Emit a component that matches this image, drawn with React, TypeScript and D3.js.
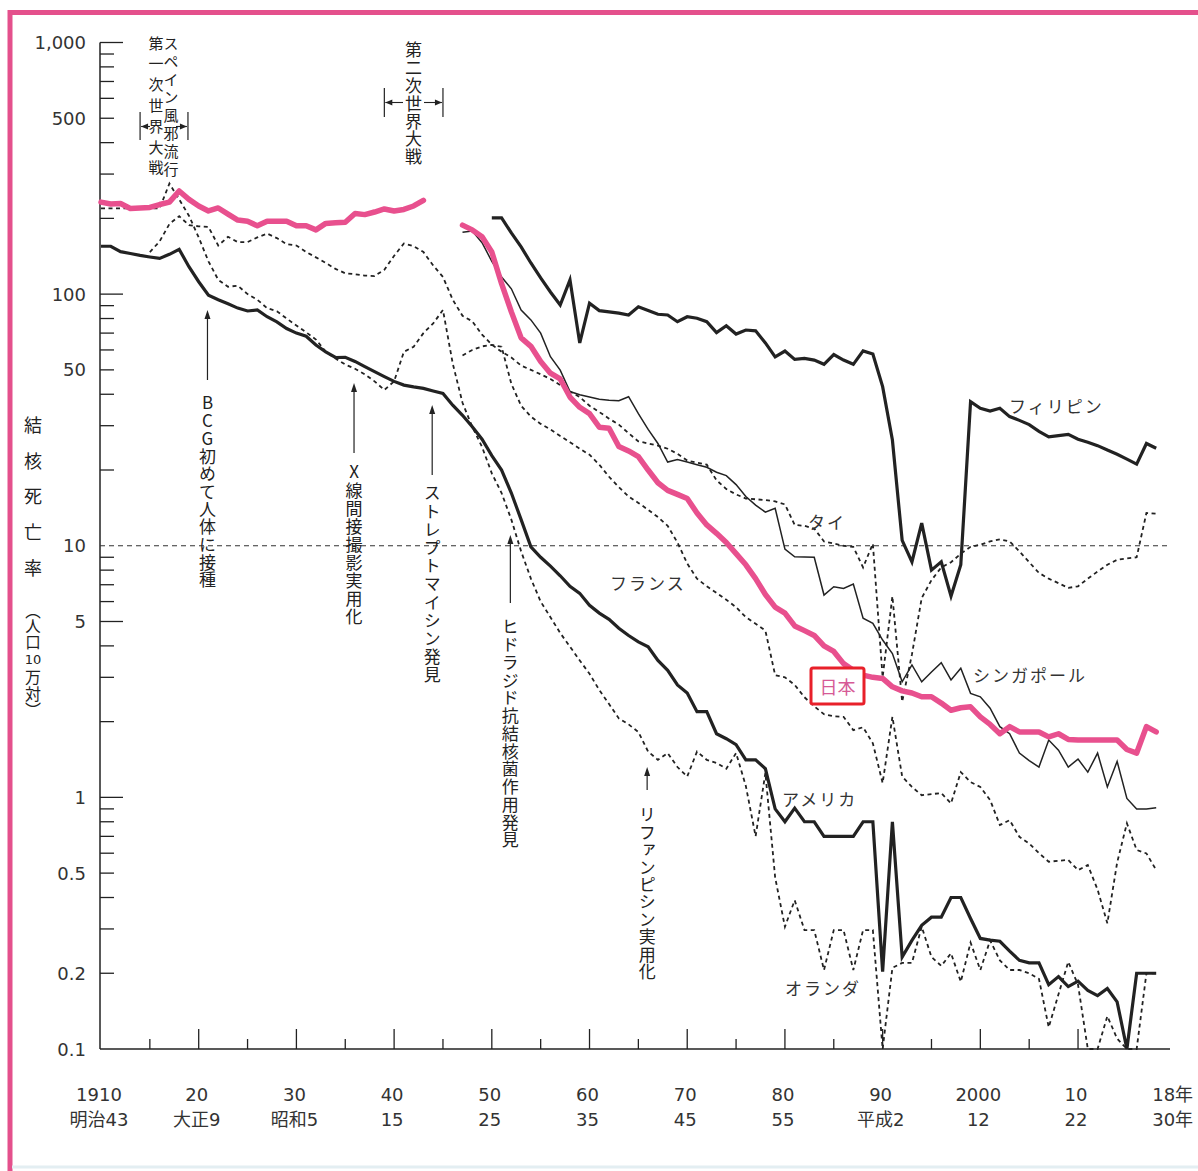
import React, { useEffect, useRef } from "react";
import * as d3 from "d3";

// 結核死亡率（人口10万対）, one value per year from the start year of each series
const japanStart = 1910;
const japanRates: (number | null)[] = [
  232, 228, 229, 219, 220, 221, 227, 232, 257, 238,
  224, 214, 220, 208, 197, 195, 187, 195, 195, 195,
  187, 187, 180, 191, 192, 193, 209, 207, 212, 218,
  214, 217, 224, 236, null, null, null, 188, 180, 169,
  147, 110, 85, 67, 62, 54, 48.5, 46, 39, 35.5,
  33.5, 29.6, 29.3, 24.8, 23.8, 22.6, 20.0, 17.8, 16.6, 16.0,
  15.4, 13.5, 12.1, 11.2, 10.3, 9.3, 8.4, 7.4, 6.4, 5.7,
  5.4, 4.8, 4.6, 4.4, 4.0, 3.8, 3.4, 3.2, 3.06, 3.0,
  2.97, 2.75, 2.65, 2.6, 2.51, 2.51, 2.37, 2.22, 2.27, 2.29,
  2.09, 1.95, 1.79, 1.91, 1.82, 1.82, 1.82, 1.74, 1.79, 1.70,
  1.69, 1.69, 1.69, 1.69, 1.69, 1.55, 1.50, 1.91, 1.82,
];

const philippinesStart = 1950;
const philippinesRates = [
  201, 201, 175, 154, 133, 116, 102, 90.5, 114, 64,
  92, 86, 85, 84, 82.6, 89, 86, 83.2, 82.6, 77.7,
  81.3, 80.2, 77.7, 70.3, 74.9, 69.4, 72, 71.5, 64, 56.3,
  59.4, 55, 55.5, 54.7, 52.6, 57.5, 54.7, 52.6, 59.5, 57.8,
  42.9, 26.3, 10.5, 8.63, 12.3, 8.0, 8.63, 6.3, 8.4, 37.4,
  35.2, 34.3, 35.2, 32.6, 31.5, 30.3, 28.5, 27.1, 27.4, 27.7,
  26.5, 25.8, 25.0, 24.0, 23.1, 22.1, 21.1, 25.5, 24.4,
];

const singaporeStart = 1947;
const singaporeRates = [
  176, 178, 160,
  135, 117, 105, 86.5, 79, 70, 56.4, 49.9, 41, 39.8,
  39, 38.2, 37.9, 37.7, 39.1, 33.5, 29, 25.5, 21.5, 22,
  21.5, 21, 20.5, 19.6, 19.0, 17.5, 15.7, 14.5, 13.6, 14.1,
  9.7, 9.04, 9.02, 9.0, 6.37, 6.87, 6.77, 7.05, 5.15, 4.92,
  4.22, 3.73, 2.88, 3.36, 2.88, 3.15, 3.43, 2.93, 3.26, 2.59,
  2.51, 2.26, 1.91, 1.79, 1.5, 1.4, 1.32, 1.69, 1.54, 1.32,
  1.42, 1.26, 1.50, 1.10, 1.39, 0.99, 0.90, 0.90, 0.91,
];

const usaStart = 1910;
const usaRates = [
  155, 155, 147.5, 145, 142.5, 140.5, 138.7, 143.9, 150.7, 128.5,
  112, 99, 95, 91.5, 88, 85.7, 86.5, 81.3, 77.6, 73,
  70, 68, 62.8, 59, 56, 56.1, 54, 51.5, 49.2, 47,
  45, 43.5, 42.8, 42.2, 41.2, 40.3, 36.2, 33, 29.7, 26.5,
  22.8, 20, 16.2, 12.7, 9.9, 9.0, 8.3, 7.6, 6.9, 6.47,
  5.8, 5.4, 5.1, 4.7, 4.4, 4.15, 3.97, 3.5, 3.2, 2.8,
  2.6, 2.19, 2.19, 1.79, 1.71, 1.62, 1.41, 1.41, 1.30, 0.9,
  0.80, 0.906, 0.80, 0.80, 0.70, 0.70, 0.70, 0.70, 0.80, 0.80,
  0.203, 0.80, 0.232, 0.27, 0.31, 0.334, 0.334, 0.40, 0.40, 0.33,
  0.275, 0.271, 0.268, 0.245, 0.225, 0.22, 0.22, 0.18, 0.194, 0.177,
  0.186, 0.171, 0.163, 0.174, 0.154, 0.10, 0.2, 0.2, 0.2,
];

const netherlandsStart = 1910;
const netherlandsRates = [
  219, 219, 219, 219, 219, 219, 219, 275, 238, 205,
  168, 135, 114, 107, 108, 100, 95, 88, 85.5, 80,
  75, 70.5, 66, 59, 55.5, 52.5, 50.5, 48, 45, 41.6,
  45, 59, 61.8, 70, 76.5, 86.5, 53, 37, 29.7, 24.7,
  19.4, 16.2, 12.7, 9.5, 7.4, 6.0, 5.2, 4.5, 3.97, 3.5,
  3.1, 2.67, 2.35, 2.06, 1.95, 1.82, 1.52, 1.41, 1.50, 1.32,
  1.21, 1.52, 1.41, 1.37, 1.30, 1.50, 1.11, 0.70, 1.25, 0.48,
  0.306, 0.39, 0.297, 0.297, 0.206, 0.297, 0.297, 0.206, 0.297, 0.297,
  0.1, 0.21, 0.22, 0.22, 0.306, 0.232, 0.214, 0.24, 0.185, 0.265,
  0.206, 0.27, 0.225, 0.206, 0.206, 0.2, 0.19, 0.122, 0.165, 0.222,
  0.18, 0.1, 0.1, 0.135, 0.11, 0.1, 0.1, 0.2, 0.2,
];

const thaiStart = 1915;
const thaiRates = [
  147, 162, 190, 204, 188,
  186, 185, 156, 169, 161, 161, 168, 174, 167, 158,
  156, 147, 140, 133, 126, 121, 120, 118.5, 118, 125,
  142, 159, 155, 147, 130, 117, 95, 82, 78, 69,
  63, 59, 56, 52, 50, 48, 46, 43.5, 41, 39,
  36, 34, 32, 30.3, 28, 26, 25.5, 25, 24.3, 23.2,
  21.8, 21.4, 21, 18.2, 16.8, 16, 15.4, 15.3, 15.2, 15.0,
  14.6, 12.1, 12.0, 11.7, 10.4, 10.2, 10.0, 9.9, 8.2, 10.2,
  3.0, 6.3, 2.4, 3.7, 6.2, 7.3, 8.2, 8.6, 9.3, 9.9,
  10.1, 10.4, 10.6, 10.4, 9.5, 8.6, 7.8, 7.4, 7.1, 6.8,
  6.9, 7.4, 7.9, 8.4, 8.8, 8.9, 9.0, 13.5, 13.4,
];

const franceStart = 1947;
const franceRates = [
  57, 60, 62,
  62.8, 61.8, 44, 36, 32.6, 30.5, 29, 27.3, 25.8, 24.3,
  23, 21, 18.8, 17.1, 15.7, 14.8, 13.9, 13.0, 12.0, 10.3,
  8.5, 7.4, 6.9, 6.5, 6.1, 5.7, 5.2, 4.9, 4.6, 3.06,
  3.0, 2.8, 2.5, 2.3, 2.14, 2.1, 2.09, 1.85, 1.9, 1.64,
  1.14, 2.09, 1.21, 1.1, 1.02, 1.03, 1.04, 0.947, 1.26, 1.15,
  1.10, 0.976, 0.776, 0.812, 0.697, 0.656, 0.6, 0.555, 0.56, 0.564,
  0.514, 0.538, 0.43, 0.316, 0.55, 0.789, 0.618, 0.599, 0.514,
];

const yTickValues = [1000, 500, 100, 50, 10, 5, 1, 0.5, 0.2, 0.1];
const yTickLabels = ["1,000", "500", "100", "50", "10", "5", "1", "0.5", "0.2", "0.1"];

const xLabelYears = [1910, 1920, 1930, 1940, 1950, 1960, 1970, 1980, 1990, 2000, 2010, 2018];
const xYearLabels = ["1910", "20", "30", "40", "50", "60", "70", "80", "90", "2000", "10", "18年"];
const xEraLabels = ["明治43", "大正9", "昭和5", "15", "25", "35", "45", "55", "平成2", "12", "22", "30年"];

const events = [
  { year: 1921, label: "BCG初めて人体に接種" },
  { year: 1936, label: "X線間接撮影実用化" },
  { year: 1944, label: "ストレプトマイシン発見" },
  { year: 1952, label: "ヒドラジド抗結核菌作用発見" },
  { year: 1966, label: "リファンピシン実用化" },
];

const wars = [
  { from: 1914, to: 1918.9, label: "第一次世界大戦", extra: "スペイン風邪流行" },
  { from: 1939, to: 1945, label: "第二次世界大戦", extra: "" },
];

type Pt = { year: number; v: number | null };
const toPoints = (start: number, values: (number | null)[]): Pt[] =>
  values.map((v, i) => ({ year: start + i, v }));

const W = 1198;
const H = 1171;

const App: React.FC = () => {
  const svgRef = useRef<SVGSVGElement | null>(null);

  useEffect(() => {
    const svg = d3.select(svgRef.current);
    svg.selectAll("*").remove();

    const ink = "#222";
    const cjk = "'Noto Sans CJK JP', sans-serif";
    const num = "'DejaVu Sans', 'Noto Sans CJK JP', sans-serif";

    const x = d3.scaleLinear().domain([1910, 2018]).range([101, 1156.2]);
    const y = d3.scaleLog().domain([0.1, 1000]).range([1049, 42.5]);

    svg.append("rect").attr("width", W).attr("height", H).attr("fill", "#fff");

    // pink frame
    svg
      .append("rect")
      .attr("x", 10)
      .attr("y", 12.5)
      .attr("width", W + 40)
      .attr("height", H + 40)
      .attr("fill", "none")
      .attr("stroke", "#e4508c")
      .attr("stroke-width", 5);
    svg
      .append("line")
      .attr("x1", 12)
      .attr("x2", W)
      .attr("y1", 1167)
      .attr("y2", 1167)
      .attr("stroke", "#e3eef2")
      .attr("stroke-width", 3);

    // vertical text as one element: cy0 = centre of the first glyph
    const vText = (
      g: d3.Selection<any, unknown, null, undefined>,
      text: string,
      cx: number,
      cy0: number,
      step: number,
      size: number
    ) => {
      g.append("text")
        .attr("x", cx)
        .attr("y", cy0 - size / 2)
        .style("writing-mode", "vertical-rl")
        .style("text-orientation", "upright")
        .attr("font-family", cjk)
        .attr("font-size", size)
        .attr("letter-spacing", step - size)
        .attr("fill", ink)
        .text(text);
    };

    // axes
    const axis = svg.append("g");
    axis
      .append("line")
      .attr("x1", 100)
      .attr("x2", 100)
      .attr("y1", y(1000))
      .attr("y2", y(0.1))
      .attr("stroke", ink)
      .attr("stroke-width", 1.5);
    axis
      .append("line")
      .attr("x1", 100)
      .attr("x2", 1170)
      .attr("y1", y(0.1))
      .attr("y2", y(0.1))
      .attr("stroke", ink)
      .attr("stroke-width", 1.5);

    const longTicks = [1000, 100, 5, 1];
    const minor: number[] = [];
    [-1, 0, 1, 2].forEach((k) => {
      d3.range(1, 10).forEach((m) => minor.push(+(m * Math.pow(10, k)).toPrecision(3)));
    });
    minor.push(1000);
    minor
      .filter((v) => v !== 10 && v !== 0.1)
      .forEach((v) => {
        axis
          .append("line")
          .attr("x1", 100)
          .attr("x2", longTicks.includes(v) ? 123 : 114)
          .attr("y1", y(v))
          .attr("y2", y(v))
          .attr("stroke", ink)
          .attr("stroke-width", 1.3);
      });

    yTickValues.forEach((v, i) => {
      axis
        .append("text")
        .attr("x", 86)
        .attr("y", y(v))
        .attr("text-anchor", "end")
        .attr("dominant-baseline", "central")
        .attr("font-family", num)
        .attr("font-size", 18)
        .attr("fill", "#333")
        .text(yTickLabels[i]);
    });

    // reference line at 10
    axis
      .append("line")
      .attr("x1", 100)
      .attr("x2", 1170)
      .attr("y1", y(10))
      .attr("y2", y(10))
      .attr("stroke", "#333")
      .attr("stroke-width", 1.2)
      .attr("stroke-dasharray", "5,4");

    d3.range(1915, 2016, 5).forEach((yr) => {
      axis
        .append("line")
        .attr("x1", x(yr))
        .attr("x2", x(yr))
        .attr("y1", y(0.1))
        .attr("y2", y(0.1) - (yr % 10 === 0 ? 20 : 10))
        .attr("stroke", ink)
        .attr("stroke-width", 1.3);
    });

    xLabelYears.forEach((yr, i) => {
      const last = i === xLabelYears.length - 1;
      [xYearLabels[i], xEraLabels[i]].forEach((t, row) => {
        axis
          .append("text")
          .attr("x", last ? x(yr) - 4 : x(yr) - 2)
          .attr("y", row === 0 ? 1094 : 1119)
          .attr("text-anchor", last ? "start" : "middle")
          .attr("dominant-baseline", "central")
          .attr("font-family", num)
          .attr("font-size", 18)
          .attr("fill", "#333")
          .text(t);
      });
    });

    // y axis title
    const title = svg.append("g");
    vText(title, "結核死亡率", 33, 425, 35.8, 18);
    vText(title, "︵人口", 33, 611, 15.5, 15.5);
    title
      .append("text")
      .attr("x", 33)
      .attr("y", 659)
      .attr("text-anchor", "middle")
      .attr("dominant-baseline", "central")
      .attr("font-family", num)
      .attr("font-size", 13)
      .attr("fill", ink)
      .text("10");
    vText(title, "万対︶", 33, 677, 16.5, 16);

    // series
    const line = d3
      .line<Pt>()
      .defined((d) => d.v != null)
      .x((d) => x(d.year))
      .y((d) => y(d.v as number));

    const lines = svg.append("g").attr("fill", "none");
    const dashed = [
      toPoints(netherlandsStart, netherlandsRates),
      toPoints(thaiStart, thaiRates),
      toPoints(franceStart, franceRates),
    ];
    dashed.forEach((pts) => {
      lines
        .append("path")
        .attr("d", line(pts))
        .attr("stroke", ink)
        .attr("stroke-width", 1.8)
        .attr("stroke-dasharray", "4,3.5");
    });
    lines
      .append("path")
      .attr("d", line(toPoints(singaporeStart, singaporeRates)))
      .attr("stroke", ink)
      .attr("stroke-width", 1.5);
    [toPoints(usaStart, usaRates), toPoints(philippinesStart, philippinesRates)].forEach((pts) => {
      lines
        .append("path")
        .attr("d", line(pts))
        .attr("stroke", ink)
        .attr("stroke-width", 3.2);
    });
    lines
      .append("path")
      .attr("d", line(toPoints(japanStart, japanRates)))
      .attr("stroke", "#e8508e")
      .attr("stroke-width", 5.5)
      .attr("stroke-linejoin", "round")
      .attr("stroke-linecap", "round");

    // event arrows with vertical captions
    const notes = svg.append("g");
    const eventLayout = [
      { tip: 310, tail: 380, text: 403, step: 17.7 },
      { tip: 383, tail: 453, text: 472, step: 18.1 },
      { tip: 405, tail: 475, text: 493, step: 18.2 },
      { tip: 535, tail: 603, text: 627, step: 17.75 },
      { tip: 767, tail: 790, text: 815, step: 17.4 },
    ];
    events.forEach((ev, i) => {
      const L = eventLayout[i];
      const cx = x(ev.year) - 1;
      notes
        .append("line")
        .attr("x1", cx)
        .attr("x2", cx)
        .attr("y1", L.tip + 6)
        .attr("y2", L.tail)
        .attr("stroke", ink)
        .attr("stroke-width", 1.2);
      notes
        .append("path")
        .attr("d", `M${cx},${L.tip} L${cx - 3},${L.tip + 9} L${cx + 3},${L.tip + 9} Z`)
        .attr("fill", ink);
      vText(notes, ev.label, cx, L.text, L.step, 17);
    });

    // war period brackets
    const warLayout = [
      { top: 112, bottom: 140, mid: 126.5, inL: 150, inR: 176 },
      { top: 88, bottom: 117, mid: 102.5, inL: 403, inR: 424 },
    ];
    wars.forEach((w, i) => {
      const L = warLayout[i];
      const x0 = x(w.from);
      const x1 = x(w.to);
      [x0, x1].forEach((bx) => {
        notes
          .append("line")
          .attr("x1", bx)
          .attr("x2", bx)
          .attr("y1", L.top)
          .attr("y2", L.bottom)
          .attr("stroke", ink)
          .attr("stroke-width", 1.2);
      });
      notes
        .append("line")
        .attr("x1", x0 + 1)
        .attr("x2", L.inL)
        .attr("y1", L.mid)
        .attr("y2", L.mid)
        .attr("stroke", ink)
        .attr("stroke-width", 1.1);
      notes
        .append("line")
        .attr("x1", L.inR)
        .attr("x2", x1 - 1)
        .attr("y1", L.mid)
        .attr("y2", L.mid)
        .attr("stroke", ink)
        .attr("stroke-width", 1.1);
      notes
        .append("path")
        .attr("d", `M${x0 + 1},${L.mid} L${x0 + 8},${L.mid - 3} L${x0 + 8},${L.mid + 3} Z`)
        .attr("fill", ink);
      notes
        .append("path")
        .attr("d", `M${x1 - 1},${L.mid} L${x1 - 8},${L.mid - 3} L${x1 - 8},${L.mid + 3} Z`)
        .attr("fill", ink);
    });
    vText(notes, wars[0].label, 156, 43, 20.8, 15);
    vText(notes, wars[0].extra, 171, 43, 18.1, 15);
    vText(notes, wars[1].label, 413.5, 50, 17.8, 17);

    // country labels
    const countryLabels = [
      { text: "フィリピン", x: 1009, y: 405 },
      { text: "タイ", x: 808, y: 521 },
      { text: "フランス", x: 610, y: 582 },
      { text: "シンガポール", x: 973, y: 674 },
      { text: "アメリカ", x: 782, y: 798 },
      { text: "オランダ", x: 785, y: 987 },
    ];
    countryLabels.forEach((c) => {
      notes
        .append("text")
        .attr("x", c.x)
        .attr("y", c.y)
        .attr("dominant-baseline", "central")
        .attr("font-family", cjk)
        .attr("font-size", 17)
        .attr("letter-spacing", 2)
        .attr("fill", "#333")
        .text(c.text);
    });

    notes
      .append("rect")
      .attr("x", 811)
      .attr("y", 668)
      .attr("width", 53)
      .attr("height", 36)
      .attr("rx", 2)
      .attr("fill", "#fff")
      .attr("stroke", "#e8202a")
      .attr("stroke-width", 3);
    notes
      .append("text")
      .attr("x", 837.5)
      .attr("y", 686)
      .attr("text-anchor", "middle")
      .attr("dominant-baseline", "central")
      .attr("font-family", cjk)
      .attr("font-size", 18)
      .attr("fill", "#d65a96")
      .text("日本");
  }, []);

  return (
    <div>
      <svg
        ref={svgRef}
        width={W}
        height={H}
        style={{ position: "absolute", left: 0, top: 0, display: "block" }}
      ></svg>
    </div>
  );
};

export default App;
